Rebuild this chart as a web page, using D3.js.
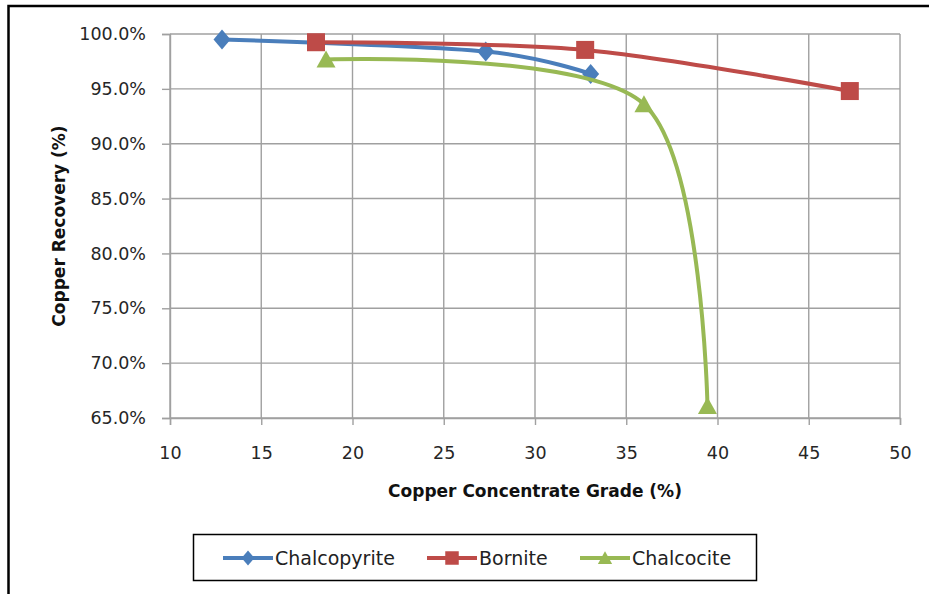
<!DOCTYPE html>
<html><head><meta charset="utf-8">
<script src="https://cdn.jsdelivr.net/npm/d3@7"></script>
<style>body{margin:0;background:#fff}svg{display:block}</style>
</head><body>
<script>
// ---- data ----
const seriesNames = ["Chalcopyrite", "Bornite", "Chalcocite"];
const seriesColors = ["#4a7ebb", "#be4b48", "#98b954"];
const chalcopyriteGrade = [12.85, 27.3, 33.05];
const chalcopyriteRecovery = [99.5, 98.4, 96.35];
const borniteGrade = [18.0, 32.75, 47.25];
const borniteRecovery = [99.25, 98.55, 94.8];
const chalcociteGrade = [18.55, 35.97, 39.45];
const chalcociteRecovery = [97.68, 93.6, 66.1];
const xTicks = [10, 15, 20, 25, 30, 35, 40, 45, 50];
const yTicks = [65, 70, 75, 80, 85, 90, 95, 100];
const xTitle = "Copper Concentrate Grade (%)";
const yTitle = "Copper Recovery (%)";

const series = [
  {name: seriesNames[0], color: seriesColors[0], marker: "diamond",
   pts: chalcopyriteGrade.map((g, i) => [g, chalcopyriteRecovery[i]])},
  {name: seriesNames[1], color: seriesColors[1], marker: "square",
   pts: borniteGrade.map((g, i) => [g, borniteRecovery[i]])},
  {name: seriesNames[2], color: seriesColors[2], marker: "triangle",
   pts: chalcociteGrade.map((g, i) => [g, chalcociteRecovery[i]])}
];

const W = 929, H = 594;
const svg = d3.select("body").append("svg").attr("width", W).attr("height", H);
svg.append("rect").attr("width", W).attr("height", H).attr("fill", "#fff");
// outer chart border (clipped at right/bottom)
svg.append("rect").attr("x", 8.5).attr("y", 6).attr("width", 1000).attr("height", 700)
  .attr("fill", "none").attr("stroke", "#000").attr("stroke-width", 2.5);

const x = d3.scaleLinear().domain([10, 50]).range([170, 900]);
const y = d3.scaleLinear().domain([65, 100]).range([418, 34]);
const gridColor = "#a0a0a0";
const font = "'DejaVu Sans', sans-serif";

// gridlines
svg.append("g").selectAll("line").data(yTicks).join("line")
  .attr("x1", x(10)).attr("x2", x(50)).attr("y1", d => y(d)).attr("y2", d => y(d))
  .attr("stroke", gridColor).attr("stroke-width", 1.4);
svg.append("g").selectAll("line").data(xTicks).join("line")
  .attr("y1", y(65)).attr("y2", y(100)).attr("x1", d => x(d)).attr("x2", d => x(d))
  .attr("stroke", gridColor).attr("stroke-width", 1.4);

// axes
const yAxis = svg.append("g").attr("transform", `translate(${x(10)},0)`)
  .call(d3.axisLeft(y).tickValues(yTicks).tickSize(8).tickPadding(16)
    .tickFormat(d => d.toFixed(1) + "%"));
const xAxis = svg.append("g").attr("transform", `translate(0,${y(65)})`)
  .call(d3.axisBottom(x).tickValues(xTicks).tickSize(7).tickPadding(22)
    .tickFormat(d3.format("d")));
[yAxis, xAxis].forEach(a => {
  a.select(".domain").attr("stroke", gridColor).attr("stroke-width", 1.4);
  a.selectAll(".tick line").attr("stroke", gridColor).attr("stroke-width", 1.4);
  a.selectAll(".tick text").attr("font-family", font).attr("font-size", 17.5)
    .attr("fill", "#262626");
});

// axis titles
svg.append("text").attr("x", (x(10) + x(50)) / 2).attr("y", 497)
  .attr("text-anchor", "middle").attr("font-family", font).attr("font-weight", "bold")
  .attr("font-size", 17).attr("fill", "#111").text(xTitle);
svg.append("text").attr("transform", `translate(65,${(y(65) + y(100)) / 2}) rotate(-90)`)
  .attr("text-anchor", "middle").attr("font-family", font).attr("font-weight", "bold")
  .attr("font-size", 17).attr("fill", "#111").text(yTitle);

// marker shapes
function markerPath(type, s) {
  if (type === "diamond") return `M0,${-10 * s}L${8.5 * s},0L0,${10 * s}L${-8.5 * s},0Z`;
  if (type === "square") return `M${-9 * s},${-9 * s}h${18 * s}v${18 * s}h${-18 * s}Z`;
  return `M0,${-9 * s}L${9.5 * s},${8 * s}L${-9.5 * s},${8 * s}Z`;
}

const line = d3.line().x(d => x(d[0])).y(d => y(d[1])).curve(d3.curveCardinal.tension(0.08));
series.forEach(s => {
  svg.append("path").datum(s.pts).attr("d", line).attr("fill", "none")
    .attr("stroke", s.color).attr("stroke-width", 4).attr("stroke-linejoin", "round");
  svg.append("g").selectAll("path").data(s.pts).join("path")
    .attr("transform", d => `translate(${x(d[0])},${y(d[1])})`)
    .attr("d", markerPath(s.marker, 1)).attr("fill", s.color);
});

// legend
svg.append("rect").attr("x", 193.5).attr("y", 534.5).attr("width", 563).attr("height", 46)
  .attr("fill", "#fff").attr("stroke", "#000").attr("stroke-width", 1.5);
const legendX = [223, 427, 580];
const ly = 558;
series.forEach((s, i) => {
  const g = svg.append("g").attr("transform", `translate(${legendX[i]},${ly})`);
  g.append("line").attr("x1", 0).attr("x2", 50).attr("stroke", s.color).attr("stroke-width", 4);
  g.append("path").attr("transform", "translate(25,0)").attr("d", markerPath(s.marker, 0.75))
    .attr("fill", s.color);
  g.append("text").attr("x", 52).attr("y", 7).attr("font-family", font).attr("font-size", 19)
    .attr("fill", "#222").text(s.name);
});
</script>
</body></html>
